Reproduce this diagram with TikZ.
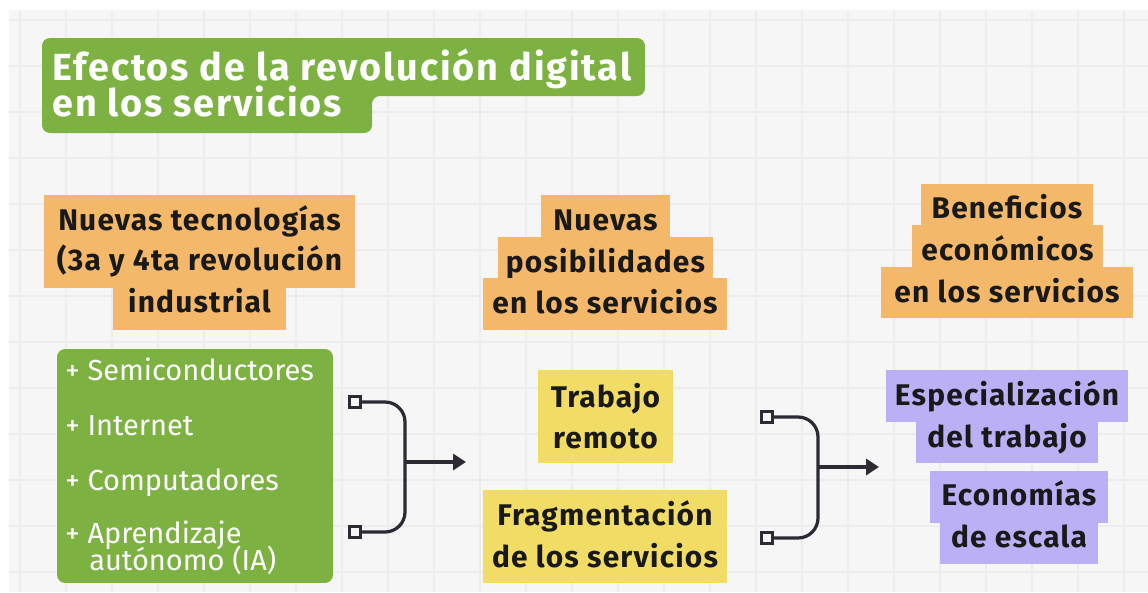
\documentclass[tikz,border=0pt]{standalone}
\usepackage{fontspec}
\setmainfont{Fira Sans}
\newfontfamily\widefont{Fira Sans}[LetterSpace=4]
\newfontfamily\titlefont{Fira Sans}[LetterSpace=5]
\usetikzlibrary{arrows.meta}
\definecolor{leaf}{HTML}{7DB243}
\definecolor{apricot}{HTML}{F4B86B}
\definecolor{lemon}{HTML}{F1DC66}
\definecolor{lilac}{HTML}{BBAFF6}
\definecolor{ink}{HTML}{2E2A33}
\definecolor{paper}{HTML}{F6F6F6}
\definecolor{gridline}{HTML}{ECECEC}

\begin{document}
\begin{tikzpicture}[x=0.02cm, y=-0.02cm,
  piece/.style={inner sep=0pt, anchor=base, text=black!90,
                font=\widefont\fontsize{17}{20}\selectfont\bfseries},
  head/.style={piece, fill=apricot},
  idea/.style={piece, fill=lemon},
  gain/.style={piece, fill=lilac},
  titletext/.style={inner sep=0pt, anchor=base west, text=white,
                    font=\titlefont\fontsize{21.5}{26}\selectfont\bfseries},
  listbox/.style={fill=leaf, rounded corners=0.16cm, inner sep=0pt,
                  minimum width=5.52cm, minimum height=4.68cm},
  item/.style={inner sep=0pt, anchor=base west, text=white,
               font=\fontsize{16.5}{20}\selectfont},
  port/.style={draw=ink, line width=0.06cm, fill=paper, inner sep=0pt,
               minimum size=0.22cm},
  wire/.style={draw=ink, line width=0.065cm}]
  \useasboundingbox (0,0) rectangle (1148,592);
  \fill[white] (0,0) rectangle (1148,592);
  \fill[paper] (9,10) rectangle (1148,592);
  % background grid
  \foreach \gx in {20,66,...,1148}
    \draw[gridline, line width=0.025cm] (\gx,10) -- (\gx,592);
  \foreach \gy in {20,66,...,592}
    \draw[gridline, line width=0.025cm] (9,\gy) -- (1148,\gy);

  % title
  \fill[leaf, rounded corners=0.16cm] (42,38) -- (645,38) -- (645,96)
    -- (372,96) -- (372,133) -- (42,133) -- cycle;
  \node[titletext] (title1) at (52,80) {Efectos de la revolución digital};
  \node[titletext] (title2) at (52,116) {en los servicios};

  % left column
  \node[head, minimum width=6.22cm, text height=0.70cm, text depth=0.28cm]
    (tec1) at (199.5,230) {Nuevas tecnologías};
  \node[head, minimum width=6.22cm, text height=0.52cm, text depth=0.36cm]
    (tec2) at (199.5,270) {(3a y 4ta revolución};
  \node[head, minimum width=3.46cm, text height=0.48cm, text depth=0.36cm]
    (tec3) at (199.5,312) {industrial};
  \node[listbox] (techs) at (195,466) {};
  \node[item] (it1) at (65,380) {+ Semiconductores};
  \node[item] (it2) at (65,435) {+ Internet};
  \node[item] (it3) at (65,490) {+ Computadores};
  \node[item] (it4) at (65,543) {+ Aprendizaje};
  \node[item] (it5) at (89,570) {autónomo (IA)};

  % first bracket
  \node[port] (p1) at (355,402) {};
  \node[port] (p2) at (355,532) {};
  \coordinate (j1) at (405,462);
  \coordinate (tip1) at (466,462);
  \draw[wire, rounded corners=0.4cm] (p1.east) -| (j1) |- (p2.east);
  \draw[wire, -{Triangle[length=0.26cm,width=0.32cm]}] (j1) -- (tip1);

  % middle column
  \node[head, minimum width=2.58cm, text height=0.70cm, text depth=0.14cm]
    (pos1) at (605.5,230) {Nuevas};
  \node[head, minimum width=4.30cm, text height=0.70cm, text depth=0.12cm]
    (pos2) at (605.5,272) {posibilidades};
  \node[head, minimum width=4.88cm, text height=0.70cm, text depth=0.34cm]
    (pos3) at (605,313) {en los servicios};
  \node[idea, minimum width=2.70cm, text height=0.74cm, text depth=0.36cm]
    (rem1) at (605.5,407) {Trabajo};
  \node[idea, minimum width=2.70cm, text height=0.46cm, text depth=0.30cm]
    (rem2) at (605.5,448) {remoto};
  \node[idea, minimum width=4.88cm, text height=0.70cm, text depth=0.40cm]
    (frag1) at (605,525) {Fragmentación};
  \node[idea, minimum width=4.88cm, text height=0.44cm, text depth=0.32cm]
    (frag2) at (605,567) {de los servicios};

  % second bracket
  \node[port] (p3) at (767,417) {};
  \node[port] (p4) at (767,538) {};
  \coordinate (j2) at (818,467);
  \coordinate (tip2) at (879,467);
  \draw[wire, rounded corners=0.4cm] (p3.east) -| (j2) |- (p4.east);
  \draw[wire, -{Triangle[length=0.26cm,width=0.32cm]}] (j2) -- (tip2);

  % right column
  \node[head, minimum width=3.44cm, text height=0.68cm, text depth=0.14cm]
    (ben1) at (1007,218) {Beneficios};
  \node[head, minimum width=3.82cm, text height=0.70cm, text depth=0.14cm]
    (ben2) at (1007.5,260) {económicos};
  \node[head, minimum width=5.04cm, text height=0.70cm, text depth=0.32cm]
    (ben3) at (1007,302) {en los servicios};
  \node[gain, minimum width=4.84cm, text height=0.70cm, text depth=0.34cm]
    (esp1) at (1007,405) {Especialización};
  \node[gain, minimum width=3.64cm, text height=0.50cm, text depth=0.32cm]
    (esp2) at (1007,447) {del trabajo};
  \node[gain, minimum width=3.56cm, text height=0.68cm, text depth=0.36cm]
    (eco1) at (1019,505) {Economías};
  \node[gain, minimum width=3.16cm, text height=0.48cm, text depth=0.34cm]
    (eco2) at (1019,547) {de escala};
\end{tikzpicture}
\end{document}
